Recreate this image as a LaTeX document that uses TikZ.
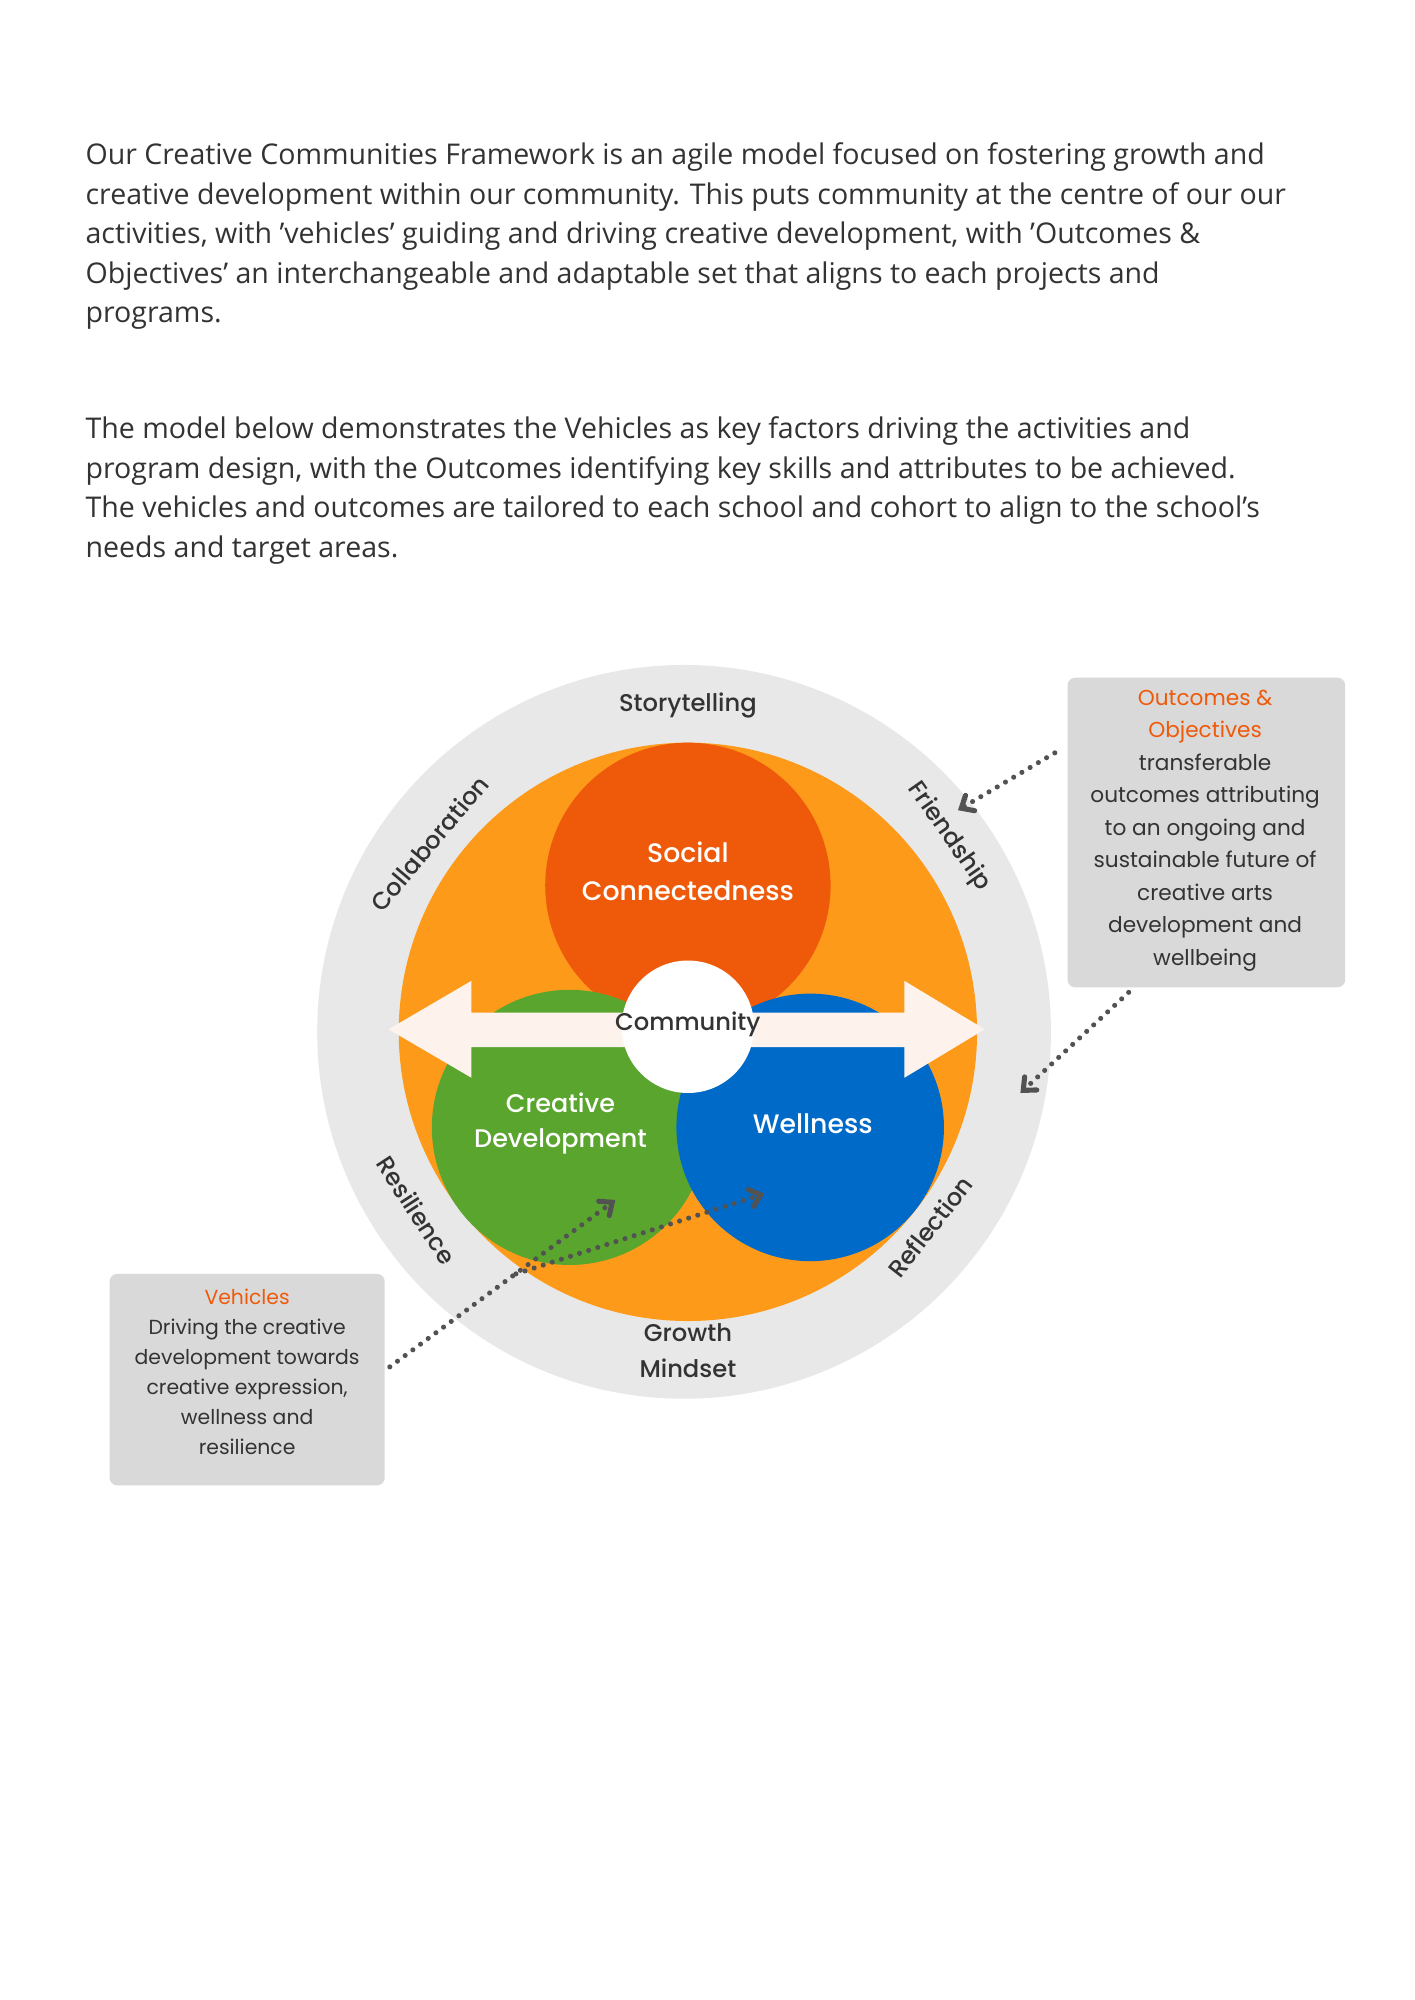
\documentclass[tikz,border=0pt]{standalone}
\usepackage{fontspec}
\setmainfont{Open Sans}
\newfontfamily\lab{Poppins}
\newfontfamily\labm{Poppins Medium}
\usetikzlibrary{arrows.meta}
\definecolor{ring}{HTML}{E8E8E8}
\definecolor{orng}{HTML}{FD9A1A}
\definecolor{redc}{HTML}{EF5A0A}
\definecolor{grn}{HTML}{5AA52E}
\definecolor{blu}{HTML}{006AC9}
\definecolor{cream}{HTML}{FDF3EC}
\definecolor{boxg}{HTML}{D9D9D9}
\definecolor{txt}{HTML}{333333}
\definecolor{hl}{HTML}{EF5A0A}
\begin{document}
\begin{tikzpicture}[x=1pt,y=-1pt,
  para/.style={anchor=north west,align=left,font=\fontsize{22.4}{31}\selectfont,text=txt,inner sep=0pt},
  ringlab/.style={font=\labm\fontsize{19}{22}\selectfont,text=txt},
  inlab/.style={font=\labm\fontsize{21}{30}\selectfont,text=white,align=center},
  boxtext/.style={font=\lab\fontsize{17}{25.5}\selectfont,text=txt,align=center},
  dotarrow/.style={line width=4pt,dash pattern=on 0pt off 7.5pt,line cap=round,color=txt!85,-{Straight Barb[length=8pt,width=14pt,line width=4pt,line cap=round]}}]
\useasboundingbox (0,0) rectangle (1110,1570);
\fill[white] (0,0) rectangle (1110,1570);
\node[para] (p1) at (67,112) {Our Creative Communities Framework is an agile model focused on fostering growth and\\creative development within our community. This puts community at the centre of our our\\activities, with 'vehicles' guiding and driving creative development, with 'Outcomes \&\\Objectives' an interchangeable and adaptable set that aligns to each projects and\\programs.};
\node[para] (p2) at (67,327) {The model below demonstrates the Vehicles as key factors driving the activities and\\program design, with the Outcomes identifying key skills and attributes to be achieved.\\The vehicles and outcomes are tailored to each school and cohort to align to the school's\\needs and target areas.};
% circles
\fill[ring] (537,810) circle (288);
\fill[orng] (540,810) circle (227);
\fill[redc] (540,695) circle (112);
\fill[grn] (447,885) circle (108);
\fill[blu] (636,885) circle (105);
\fill[cream] (305,808) -- (370,770) -- (370,795) -- (710,795) -- (710,770) -- (773,808) -- (710,846) -- (710,822) -- (370,822) -- (370,846) -- cycle;
\fill[white] (540,806) circle (52);
\node[ringlab] (com) at (540,804) {Community};
\node[inlab] (soc) at (540,684) {Social\\Connectedness};
\node[inlab,font=\labm\fontsize{20}{28}\selectfont] (cre) at (440,882) {Creative\\Development};
\node[inlab] (wel) at (638,882) {Wellness};
% ring labels
\node[ringlab] (st) at (540,554) {Storytelling};
\node[ringlab,rotate=50] (col) at (337,662) {Collaboration};
\node[ringlab,rotate=-55] (fr) at (745,657) {Friendship};
\node[ringlab,rotate=-57] (res) at (327,950) {Resilience};
\node[ringlab,rotate=52] (ref) at (730,963) {Reflection};
\node[ringlab,align=center,font=\labm\fontsize{19}{28}\selectfont] (gm) at (540,1060) {Growth\\Mindset};
% boxes
\fill[boxg,rounded corners=6pt] (838,532) rectangle (1056,775);
\node[boxtext] (ob) at (946,652) {\textcolor{hl}{Outcomes \&}\\\textcolor{hl}{Objectives}\\transferable\\outcomes attributing\\to an ongoing and\\sustainable future of\\creative arts\\development and\\wellbeing};
\fill[boxg,rounded corners=6pt] (86,1000) rectangle (302,1166);
\node[boxtext,font=\lab\fontsize{16}{23.5}\selectfont] (ve) at (194,1077) {\textcolor{hl}{Vehicles}\\Driving the creative\\development towards\\creative expression,\\wellness and\\resilience};
% arrows
\coordinate (a1) at (828,591); \coordinate (a1e) at (752,636);
\coordinate (a2) at (886,779); \coordinate (a2e) at (801,858);
\coordinate (a3) at (306,1073); \coordinate (a3e) at (483,942);
\coordinate (a4) at (405,1000); \coordinate (a4e) at (600,937);
\draw[dotarrow] (a1) -- (a1e);
\draw[dotarrow] (a2) -- (a2e);
\draw[dotarrow] (a3) -- (a3e);
\draw[dotarrow] (a4) -- (a4e);
\end{tikzpicture}
\end{document}
